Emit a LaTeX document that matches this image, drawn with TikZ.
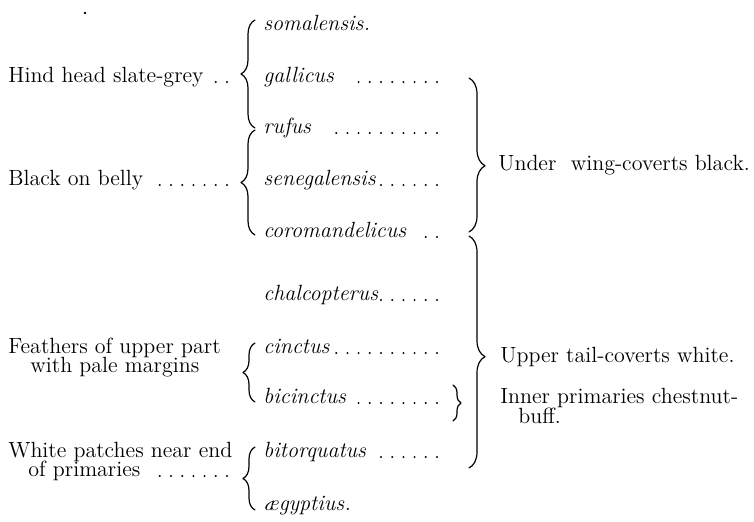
\documentclass[tikz,border=0pt]{standalone}
\usepackage{fontspec}
\usetikzlibrary{decorations.pathreplacing}

\begin{document}
\begin{tikzpicture}[line cap=round,line join=round,x=0.5pt,y=-0.5pt,
    txt/.style={anchor=base west, inner sep=0pt, font=\fontsize{11}{13}\selectfont},
    sp/.style={txt, font=\fontsize{11}{13}\selectfont\itshape},
    leader/.style={line width=1.1pt, dash pattern=on 0pt off 5.6pt},
    brc/.style={decorate, decoration={brace, amplitude=7pt}, line width=0.6pt}]
                    \useasboundingbox (0,0) rectangle (754,521);
                    \fill (85,13) circle (0.7pt);

                    \coordinate (lend) at (437,0);
                    \coordinate (lbeg) at (227,0);

                    \node[sp] (som) at (263,30) {somalensis.};
                    \node[sp] (gal) at (263,82) {gallicus};
                    \node[sp] (ruf) at (263,133) {rufus};
                    \node[sp] (sen) at (263,185) {senegalensis};
                    \node[sp] (cor) at (263,237) {coromandelicus};
                    \node[sp] (cha) at (263,300) {chalcopterus};
                    \node[sp] (cin) at (263,353) {cinctus};
                    \node[sp] (bic) at (263,403) {bicinctus};
                    \node[sp] (bit) at (263,457) {bitorquatus};
                    \node[sp] (aeg) at (263,510) {ægyptius.};

                    \draw[leader] (gal.base east -| lend) -- ([xshift=10pt]gal.base east);
                    \draw[leader] (ruf.base east -| lend) -- ([xshift=8pt]ruf.base east);
                    \draw[leader] (sen.base east -| lend) -- ([xshift=2pt]sen.base east);
                    \draw[leader] (cor.base east -| lend) -- ([xshift=9pt]cor.base east);
                    \draw[leader] (cha.base east -| lend) -- ([xshift=1pt]cha.base east);
                    \draw[leader] (cin.base east -| lend) -- ([xshift=2pt]cin.base east);
                    \draw[leader] (bic.base east -| lend) -- ([xshift=6pt]bic.base east);
                    \draw[leader] (bit.base east -| lend) -- ([xshift=6pt]bit.base east);

                    \node[txt] (hind) at (8,82) {Hind head slate-grey};
                    \node[txt] (belly) at (8,185) {Black on belly};
                    \node[txt] (feath) at (8,353) {Feathers of upper part};
                    \node[txt] (feathb) at (30,372) {with pale margins};
                    \node[txt] (white) at (8,457) {White patches near end};
                    \node[txt] (whiteb) at (28,476) {of primaries};

                    \draw[leader] (hind.base east -| lbeg) -- ([xshift=2pt]hind.base east);
                    \draw[leader] (belly.base east -| lbeg) -- ([xshift=8pt]belly.base east);
                    \draw[leader] (whiteb.base east -| lbeg) -- ([xshift=8pt]whiteb.base east);

                    \draw[brc] (255,128) -- (255,20);
                    \draw[brc] (255,235) -- (255,130);
                    \draw[brc, decoration={amplitude=6pt}] (255,402) -- (255,343);
                    \draw[brc, decoration={amplitude=6pt}] (255,510) -- (255,447);

                    \draw[brc, decoration={amplitude=8pt, aspect=0.57}] (469,78) -- (469,232);
                    \draw[brc, decoration={amplitude=8pt, aspect=0.52}] (469,236) -- (469,468);
                    \draw[brc, decoration={amplitude=4pt}] (453,385) -- (453,421);

                    \node[txt] (under) at (498,170) {Under\ \ wing-coverts black.};
                    \node[txt] (upper) at (500,362) {Upper tail-coverts white.};
                    \node[txt] (inner) at (500,403) {Inner\ primaries\ chestnut-};
                    \node[txt] (innerb) at (518,423) {buff.};
                \end{tikzpicture}
\end{document}
